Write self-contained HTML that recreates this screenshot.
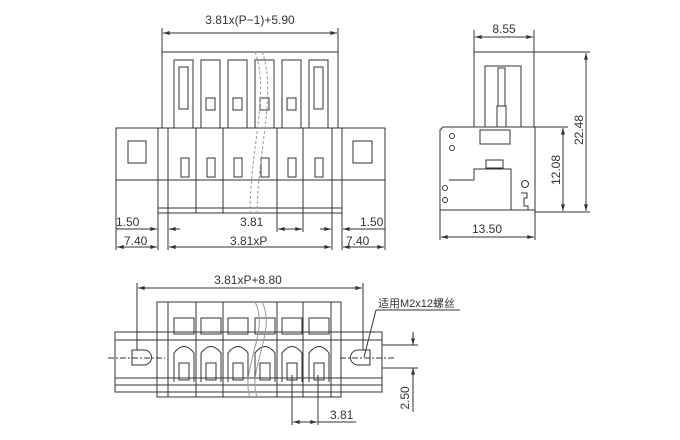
<!DOCTYPE html>
<html><head><meta charset="utf-8"><style>
html,body{margin:0;padding:0;background:#fff}
svg{display:block}
text{font-family:"Liberation Sans","Noto Sans CJK SC",sans-serif;fill:#333}
</style></head><body>
<svg width="680" height="440" viewBox="0 0 680 440" xmlns="http://www.w3.org/2000/svg">
<defs>
<marker id="a" viewBox="0 0 10 6" refX="10" refY="3" markerWidth="8" markerHeight="4" orient="auto-start-reverse"><path d="M0,0L10,3L0,6z" fill="#333"/></marker>
</defs>
<g stroke="#333" stroke-width="1" fill="none">
<!-- FRONT VIEW -->
<rect x="162" y="52" width="176" height="76"/>
<rect x="116" y="128" width="269" height="52"/>
<rect x="158" y="180" width="184" height="33"/>
<line x1="158" y1="128" x2="158" y2="213"/><line x1="168" y1="128" x2="168" y2="213"/>
<line x1="342" y1="128" x2="342" y2="213"/><line x1="332" y1="128" x2="332" y2="213"/>
<line x1="196" y1="128" x2="196" y2="213"/><line x1="223" y1="128" x2="223" y2="213"/>
<line x1="277" y1="128" x2="277" y2="213"/><line x1="303" y1="128" x2="303" y2="213"/>
<line x1="158" y1="208" x2="342" y2="208"/>
<rect x="128" y="141" width="18" height="22"/><rect x="353" y="141" width="19" height="22"/>
<g>
<rect x="174" y="60" width="19" height="68"/><rect x="201" y="60" width="19" height="68"/>
<rect x="228" y="60" width="19" height="68"/><rect x="255" y="60" width="19" height="68"/>
<rect x="282" y="60" width="19" height="68"/><rect x="309" y="60" width="19" height="68"/>
<rect x="179" y="67" width="9" height="42"/><rect x="314" y="67" width="9" height="42"/>
<rect x="206" y="98" width="9" height="12"/><rect x="233" y="98" width="9" height="12"/>
<rect x="260" y="98" width="9" height="12"/><rect x="287" y="98" width="9" height="12"/>
<rect x="181" y="158" width="8" height="19"/><rect x="207" y="158" width="8" height="19"/>
<rect x="234" y="158" width="8" height="19"/><rect x="261" y="158" width="8" height="19"/>
<rect x="288" y="158" width="8" height="19"/><rect x="315" y="158" width="8" height="19"/>
</g>
<path d="M255,52 C270,90 250,150 250,213 M262,52 C277,90 258,150 257,213" stroke="#999" stroke-dasharray="3,2"/>
<!-- front dims -->
<line x1="162" y1="52" x2="162" y2="28"/><line x1="338" y1="52" x2="338" y2="28"/>
<line x1="163" y1="33" x2="337" y2="33" marker-start="url(#a)" marker-end="url(#a)"/>
<line x1="116" y1="180" x2="116" y2="250"/><line x1="385" y1="180" x2="385" y2="250"/>
<line x1="158" y1="213" x2="158" y2="250"/><line x1="168" y1="213" x2="168" y2="250"/>
<line x1="342" y1="213" x2="342" y2="250"/><line x1="332" y1="213" x2="332" y2="250"/>
<line x1="277" y1="213" x2="277" y2="232"/><line x1="303" y1="213" x2="303" y2="232"/>
<line x1="116" y1="229" x2="157" y2="229" marker-end="url(#a)"/>
<line x1="169" y1="229" x2="180" y2="229" marker-start="url(#a)"/>
<line x1="278" y1="229" x2="302" y2="229" marker-start="url(#a)" marker-end="url(#a)"/>
<line x1="320" y1="229" x2="331" y2="229" marker-end="url(#a)"/>
<line x1="343" y1="229" x2="385" y2="229" marker-start="url(#a)"/>
<line x1="117" y1="247" x2="157" y2="247" marker-start="url(#a)" marker-end="url(#a)"/>
<line x1="169" y1="247" x2="331" y2="247" marker-start="url(#a)" marker-end="url(#a)"/>
<line x1="343" y1="247" x2="384" y2="247" marker-start="url(#a)" marker-end="url(#a)"/>
<!-- SIDE VIEW -->
<rect x="474" y="52" width="60" height="75"/>
<rect x="485" y="66" width="36" height="61"/>
<rect x="498" y="68" width="7" height="38"/><rect x="497" y="106" width="9" height="21"/>
<path d="M443,127 L535,127 L535,210 L440,210 L440,130 Z"/>
<rect x="480" y="130" width="30" height="14"/>
<path d="M449,180 L474,180 L474,169 L511,169 L511,210"/>
<rect x="486" y="160" width="17" height="8"/>
<circle cx="452" cy="136" r="2.5"/><circle cx="452" cy="148" r="2.5"/>
<circle cx="445" cy="188" r="2.5"/><circle cx="445" cy="200" r="2.5"/>
<circle cx="525" cy="184" r="3.5"/>
<path d="M521,193 h6 v5 h-3 v8 h4 v4"/>
<line x1="474" y1="52" x2="474" y2="30"/><line x1="534" y1="52" x2="534" y2="30"/>
<line x1="475" y1="37" x2="533" y2="37" marker-start="url(#a)" marker-end="url(#a)"/>
<line x1="440" y1="210" x2="440" y2="240"/><line x1="535" y1="210" x2="535" y2="240"/>
<line x1="441" y1="237" x2="534" y2="237" marker-start="url(#a)" marker-end="url(#a)"/>
<line x1="534" y1="52" x2="590" y2="52"/><line x1="535" y1="212" x2="590" y2="212"/>
<line x1="535" y1="127" x2="568" y2="127"/>
<line x1="586" y1="53" x2="586" y2="211" marker-start="url(#a)" marker-end="url(#a)"/>
<line x1="563" y1="128" x2="563" y2="211" marker-start="url(#a)" marker-end="url(#a)"/>
<!-- BOTTOM VIEW -->
<rect x="157" y="302" width="184" height="95"/>
<rect x="115" y="332" width="267" height="60"/>
<line x1="115" y1="340" x2="382" y2="340"/><line x1="115" y1="378" x2="382" y2="378"/>
<line x1="115" y1="385" x2="382" y2="385"/>
<line x1="168" y1="302" x2="168" y2="397"/><line x1="196" y1="302" x2="196" y2="397"/>
<line x1="223" y1="302" x2="223" y2="397"/><line x1="277" y1="302" x2="277" y2="397"/>
<line x1="303" y1="302" x2="303" y2="397"/><line x1="331" y1="302" x2="331" y2="397"/>
<g>
<rect x="174" y="318" width="20" height="16"/><rect x="201" y="318" width="20" height="16"/>
<rect x="228" y="318" width="20" height="16"/><rect x="255" y="318" width="20" height="16"/>
<rect x="282" y="318" width="20" height="16"/><rect x="309" y="318" width="20" height="16"/>
<path d="M174,382 V353 Q184,340 194,353 V382"/><path d="M201,382 V353 Q211,340 221,353 V382"/>
<path d="M228,382 V353 Q238,340 248,353 V382"/><path d="M255,382 V353 Q265,340 275,353 V382"/>
<path d="M282,382 V353 Q292,340 302,353 V382"/><path d="M309,382 V353 Q319,340 329,353 V382"/>
<rect x="179" y="363" width="10" height="17"/><rect x="206" y="363" width="10" height="17"/>
<rect x="233" y="363" width="10" height="17"/><rect x="260" y="363" width="10" height="17"/>
<rect x="287" y="363" width="10" height="17"/><rect x="314" y="363" width="10" height="17"/>
</g>
<path d="M132,350 h12 a7,7 0 0 1 0,15 h-12 z"/><path d="M370,350 h-12 a7,7 0 0 0 0,15 h12 z"/>
<line x1="108" y1="358" x2="165" y2="358" stroke-dasharray="6,2,2,2"/>
<line x1="340" y1="358" x2="395" y2="358" stroke-dasharray="6,2,2,2"/>
<path d="M255,302 C270,330 240,370 250,397 M262,302 C277,330 247,370 257,397" stroke="#999"/>
<line x1="137" y1="350" x2="137" y2="283"/><line x1="363" y1="350" x2="363" y2="283"/>
<line x1="138" y1="288" x2="362" y2="288" marker-start="url(#a)" marker-end="url(#a)"/>
<line x1="364" y1="357" x2="376" y2="310"/><line x1="376" y1="310" x2="460" y2="310"/>
<line x1="382" y1="345" x2="418" y2="345"/><line x1="382" y1="368" x2="418" y2="368"/>
<line x1="413" y1="332" x2="413" y2="345" marker-end="url(#a)"/>
<line x1="413" y1="368" x2="413" y2="412"/>
<line x1="413" y1="380" x2="413" y2="368" marker-end="url(#a)"/>
<line x1="292" y1="375" x2="292" y2="425"/><line x1="318" y1="375" x2="318" y2="425"/>
<line x1="293" y1="422" x2="317" y2="422" marker-start="url(#a)" marker-end="url(#a)"/>
<line x1="318" y1="422" x2="356" y2="422"/>
</g>
<g font-size="12">
<text x="250" y="24" text-anchor="middle">3.81x(P−1)+5.90</text>
<text x="116" y="226">1.50</text>
<text x="240" y="226">3.81</text>
<text x="360" y="226">1.50</text>
<text x="124" y="245">7.40</text>
<text x="230" y="245">3.81xP</text>
<text x="346" y="245">7.40</text>
<text x="504" y="33" text-anchor="middle">8.55</text>
<text x="487" y="233" text-anchor="middle">13.50</text>
<text transform="translate(583,130) rotate(-90)" text-anchor="middle">22.48</text>
<text transform="translate(560,170) rotate(-90)" text-anchor="middle">12.08</text>
<text x="248" y="284" text-anchor="middle">3.81xP+8.80</text>
<text x="378" y="307" font-size="11">适用M2x12螺丝</text>
<text transform="translate(409,398) rotate(-90)" text-anchor="middle">2.50</text>
<text x="330" y="419">3.81</text>
</g>
</svg>
</body></html>
